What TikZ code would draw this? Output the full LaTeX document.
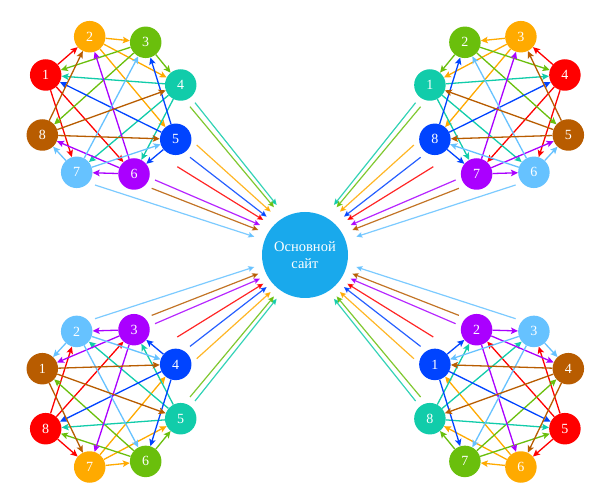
\documentclass[tikz,border=0pt]{standalone}
\usepackage{fontspec}
\setmainfont{Liberation Serif}
\usetikzlibrary{arrows.meta}
\definecolor{cred}{HTML}{FF0000}
\definecolor{corange}{HTML}{FFAA00}
\definecolor{cgreen}{HTML}{6ABF0C}
\definecolor{cteal}{HTML}{11CCAA}
\definecolor{cblue}{HTML}{0044FF}
\definecolor{cpurple}{HTML}{AA00FF}
\definecolor{clight}{HTML}{66C2FF}
\definecolor{cbrown}{HTML}{B85C00}
\definecolor{cmain}{HTML}{19A9EC}
\tikzset{
  dot/.style={circle, minimum size=31.5pt, inner sep=0pt, text=white,
    font=\fontsize{14}{14}\selectfont},
  edgearrow/.style={line width=1.3pt, -{Stealth[length=7pt,width=6.5pt,inset=1.5pt]}},
  feed/.style={line width=1.2pt, draw opacity=0.85, -{Stealth[length=6pt,width=5.5pt,inset=1pt]}},
  mainnode/.style={circle, fill=cmain, minimum size=86pt, inner sep=0pt, text=white,
    align=center, font=\fontsize{14.5}{17}\selectfont},
}
\newcommand\cluster[3]{%
\begin{scope}[#2]
  \foreach \c/\sx/\sy/\ex/\ey [count=\i] in {cteal/195/102.7/276.7/205,
      cgreen/190/106.7/274/207.3, corange/196.7/145/270.7/211.7,
      cblue/190/157.3/266.7/216.7, cred/177.3/166.7/263.3/220,
      cpurple/155/180/260/225, cbrown/151.7/188.3/258.3/230,
      clight/95/185/254.3/236.7}{
    \coordinate (#1s\i) at (\sx,\sy);
    \coordinate (#1e\i) at (\ex,\ey);
    \draw[feed, draw=\c] (#1s\i) -- (#1e\i);
  }
  \foreach \p/\x/\y/\c in {1/45.7/75/cred, 2/89.7/36.7/corange, 3/145.7/42.3/cgreen,
      4/180.7/85/cteal, 5/175.7/139.3/cblue, 6/134/174/cpurple,
      7/76.7/172.3/clight, 8/42.3/135/cbrown}{
    \pgfmathtruncatemacro\lab{#3}
    \node[dot, fill=\c] (#1\p) at (\x,\y) {\lab};
  }
  \foreach \a/\b/\c in {1/2/cred, 1/7/cred, 1/6/cred,
      2/3/corange, 2/4/corange, 2/5/corange,
      3/4/cgreen, 3/1/cgreen, 3/8/cgreen,
      4/1/cteal, 4/7/cteal, 4/6/cteal,
      5/3/cblue, 5/1/cblue, 5/6/cblue,
      6/2/cpurple, 6/8/cpurple, 6/7/cpurple,
      7/3/clight, 7/5/clight, 7/8/clight,
      8/2/cbrown, 8/4/cbrown, 8/5/cbrown}{
    \draw[edgearrow, draw=\c] (#1\a) -- (#1\b);
  }
\end{scope}}
\begin{document}
\begin{tikzpicture}[x=1pt, y=-1pt]
  \fill[white] (0,0) rectangle (607,502);
  \useasboundingbox (0,0) rectangle (607,502);
  \cluster{tl}{}{\p}
  \cluster{tr}{shift={(610.6,0)}, xscale=-1}{mod(12-\p,8)+1}
  \cluster{bl}{shift={(0,503.7)}, yscale=-1}{9-\p}
  \cluster{br}{shift={(610.6,503.7)}, xscale=-1, yscale=-1}{8-mod(12-\p,8)}
  \node[mainnode] (main) at (305,255) {Основной\\сайт};
\end{tikzpicture}
\end{document}
